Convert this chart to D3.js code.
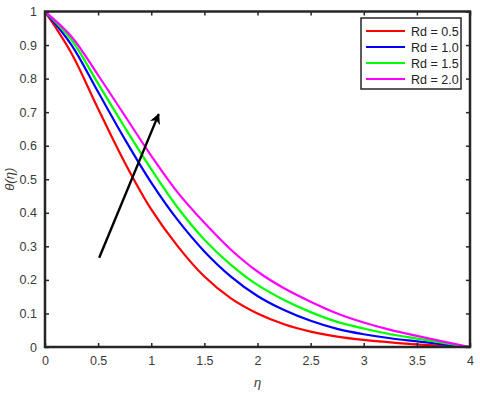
<!DOCTYPE html>
<meta charset="utf-8">
<head>
    <style>
        body, html {
            margin: 0;
            background: white;
            width: 100%;
            height: 100%;
        }
        svg text {
            font-family: "Liberation Sans", Arial, sans-serif;
        }
        .tick text {
            font-size: 12.5px;
            fill: #3a3a3a;
        }
    </style>
    <script src="https://cdn.jsdelivr.net/npm/d3@7"></script>
</head>
<body>
<div id="chart"></div>

<script>
    // eta grid and theta(eta) for each Rd
    var eta = [0, 0.25, 0.5, 0.75, 1, 1.25, 1.5, 1.75, 2, 2.25, 2.5, 2.75, 3, 3.25, 3.5, 3.75, 4];
    var rd05 = [1, 0.875, 0.71, 0.55, 0.41, 0.30, 0.21, 0.145, 0.10, 0.068, 0.046, 0.031, 0.021, 0.014, 0.008, 0.004, 0];
    var rd10 = [1, 0.90, 0.76, 0.62, 0.49, 0.378, 0.285, 0.21, 0.152, 0.11, 0.078, 0.054, 0.038, 0.026, 0.017, 0.008, 0];
    var rd15 = [1, 0.915, 0.785, 0.655, 0.53, 0.415, 0.32, 0.245, 0.185, 0.14, 0.104, 0.075, 0.055, 0.038, 0.025, 0.012, 0];
    var rd20 = [1, 0.925, 0.81, 0.69, 0.57, 0.46, 0.37, 0.29, 0.225, 0.175, 0.135, 0.10, 0.073, 0.051, 0.033, 0.016, 0];

    var seriesNames = ["Rd = 0.5", "Rd = 1.0", "Rd = 1.5", "Rd = 2.0"];
    var seriesColors = ["#ff0000", "#0000ff", "#00ff00", "#ff00ff"];
    var xTicks = [0, 0.5, 1, 1.5, 2, 2.5, 3, 3.5, 4];
    var yTicks = [0, 0.1, 0.2, 0.3, 0.4, 0.5, 0.6, 0.7, 0.8, 0.9, 1];
    // arrow: from (eta, theta) to (eta, theta)
    var arrowFrom = [0.51, 0.266];
    var arrowTo = [1.07, 0.694];

    var width = 480, height = 395;
    var plotL = 45, plotR = 470, plotT = 11.5, plotB = 347;

    var svg = d3.select("#chart").append("svg")
        .attr("width", width)
        .attr("height", height);

    var x = d3.scaleLinear().domain([0, 4]).range([plotL, plotR]);
    var y = d3.scaleLinear().domain([0, 1]).range([plotB, plotT]);

    var defs = svg.append("defs");
    defs.append("clipPath").attr("id", "clip")
        .append("rect")
        .attr("x", plotL).attr("y", plotT)
        .attr("width", plotR - plotL).attr("height", plotB - plotT);
    defs.append("marker")
        .attr("id", "head")
        .attr("viewBox", "0 0 10 10")
        .attr("refX", 9).attr("refY", 5)
        .attr("markerWidth", 5).attr("markerHeight", 4.5)
        .attr("markerUnits", "strokeWidth")
        .attr("orient", "auto")
        .append("path")
        .attr("d", "M0,0 L10,5 L0,10 L3,5 Z")
        .attr("fill", "black");

    var line = d3.line()
        .x(function(d, i){return x(eta[i])})
        .y(function(d){return y(d)})
        .curve(d3.curveCatmullRom.alpha(0.5));

    var allSeries = [rd05, rd10, rd15, rd20];
    svg.append("g").attr("clip-path", "url(#clip)")
        .selectAll("path")
        .data(allSeries)
        .enter()
        .append("path")
        .attr("d", line)
        .attr("fill", "none")
        .attr("stroke", function(d, i){return seriesColors[i]})
        .attr("stroke-width", 2.2);

    // arrow
    svg.append("line")
        .attr("x1", x(arrowFrom[0])).attr("y1", y(arrowFrom[1]))
        .attr("x2", x(arrowTo[0])).attr("y2", y(arrowTo[1]))
        .attr("stroke", "black")
        .attr("stroke-width", 2.4)
        .attr("marker-end", "url(#head)");

    // axes, ticks pointing inward
    var axColor = "#262626";
    function styleAxis(g, hideText) {
        g.select(".domain").remove();
        g.selectAll(".tick line").attr("stroke", axColor).attr("stroke-width", 1.5);
        if (hideText) g.selectAll(".tick text").remove();
    }
    svg.append("g")
        .attr("transform", "translate(0," + plotB + ")")
        .call(d3.axisBottom(x).tickValues(xTicks).tickSize(-4).tickPadding(9).tickFormat(d3.format("")))
        .call(function(g){styleAxis(g, false)});
    svg.append("g")
        .attr("transform", "translate(0," + plotT + ")")
        .call(d3.axisTop(x).tickValues(xTicks).tickSize(-4))
        .call(function(g){styleAxis(g, true)});
    svg.append("g")
        .attr("transform", "translate(" + plotL + ",0)")
        .call(d3.axisLeft(y).tickValues(yTicks).tickSize(-4).tickPadding(8).tickFormat(d3.format("")))
        .call(function(g){styleAxis(g, false)});
    svg.append("g")
        .attr("transform", "translate(" + plotR + ",0)")
        .call(d3.axisRight(y).tickValues(yTicks).tickSize(-4))
        .call(function(g){styleAxis(g, true)});

    svg.append("rect")
        .attr("x", plotL).attr("y", plotT)
        .attr("width", plotR - plotL).attr("height", plotB - plotT)
        .attr("fill", "none")
        .attr("stroke", axColor)
        .attr("stroke-width", 2.5);

    // axis labels
    svg.append("text")
        .attr("x", (plotL + plotR) / 2).attr("y", 387)
        .attr("text-anchor", "middle")
        .attr("font-family", "'DejaVu Serif', serif")
        .attr("font-style", "italic")
        .attr("font-size", 13)
        .attr("fill", "#3a3a3a")
        .text("η");
    svg.append("text")
        .attr("transform", "translate(14," + ((plotT + plotB) / 2) + ") rotate(-90)")
        .attr("text-anchor", "middle")
        .attr("font-family", "'DejaVu Serif', serif")
        .attr("font-style", "italic")
        .attr("font-size", 13)
        .attr("fill", "#3a3a3a")
        .text("θ(η)");

    // legend
    var lg = svg.append("g").attr("transform", "translate(361,18)");
    lg.append("rect")
        .attr("width", 100).attr("height", 71)
        .attr("fill", "white")
        .attr("stroke", axColor)
        .attr("stroke-width", 1.5);
    var item = lg.selectAll(".item")
        .data(seriesNames)
        .enter()
        .append("g")
        .attr("class", "item")
        .attr("transform", function(d, i){return "translate(0," + (13 + i * 16) + ")"});
    item.append("line")
        .attr("x1", 5).attr("x2", 44)
        .attr("stroke", function(d, i){return seriesColors[i]})
        .attr("stroke-width", 2.2);
    item.append("text")
        .attr("x", 50).attr("y", 4.5)
        .attr("font-size", 12.5)
        .attr("fill", "#222")
        .text(function(d){return d});
</script>
</body>
